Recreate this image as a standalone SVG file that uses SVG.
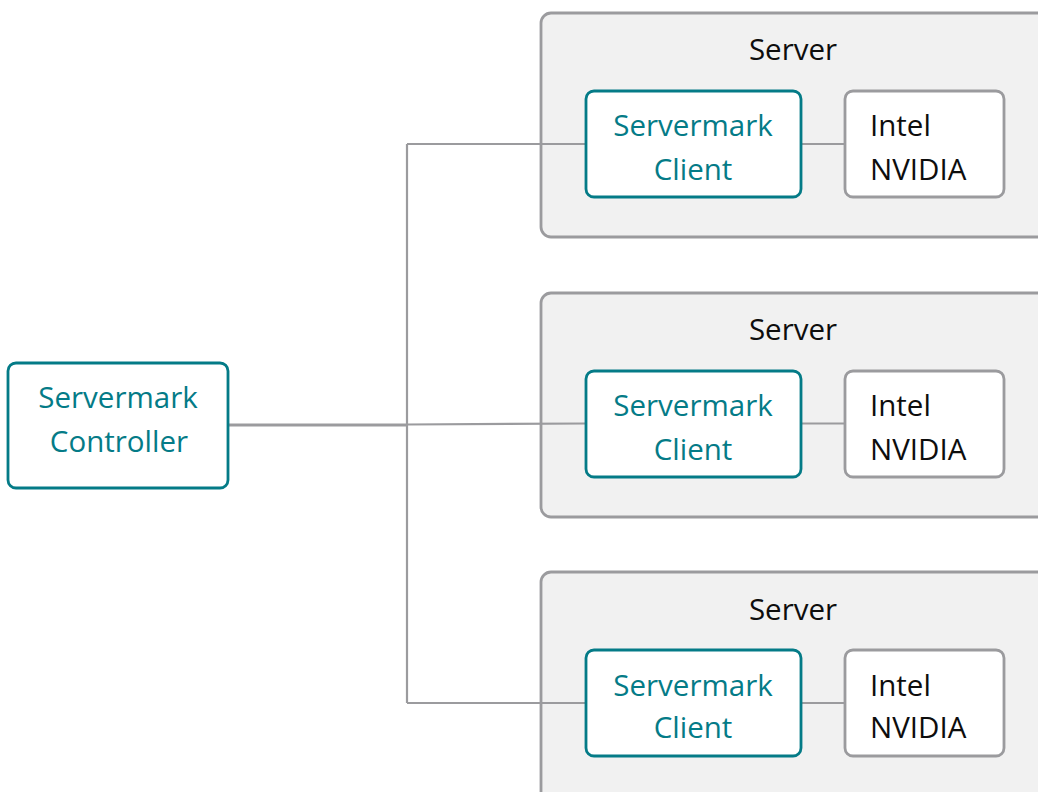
<svg xmlns="http://www.w3.org/2000/svg" width="1038" height="792" viewBox="0 0 1038 792">
<style>
text{font-family:"Open Sans","Noto Sans",sans-serif;font-size:29.500px}
.srv{fill:#f1f1f1;stroke:#9b9b9e;stroke-width:2.8}
.tl{fill:#fff;stroke:#047b87;stroke-width:2.8}
.gr{fill:#fff;stroke:#9b9b9e;stroke-width:2.8}
.t{fill:#047b87;text-anchor:middle}
.k{fill:#0d0d0d}
.m{text-anchor:middle}
.c{fill:none;stroke:#9b9b9e;stroke-width:2.2}
.c2{fill:none;stroke:#9b9b9e;stroke-width:2.8}
</style>
<g id="server1"><rect class="srv" x="541" y="13" width="540" height="224" rx="10"/><text class="k m" x="793" y="60">Server</text></g>
<g id="server2"><rect class="srv" x="541" y="293" width="540" height="224" rx="10"/><text class="k m" x="793" y="340">Server</text></g>
<g id="server3"><rect class="srv" x="541" y="572" width="540" height="264" rx="10"/><text class="k m" x="793" y="620">Server</text></g>
<g id="connectors">
<path class="c" d="M407 144V703M407 144H586M407 703H586M407 424.500L586 423.500M801 144H845M801 423.500H845M801 703H845"/>
<path class="c2" d="M229 425H407"/>
</g>
<g id="controller"><rect class="tl" x="8" y="363" width="220" height="125" rx="8"/><text class="t" x="118" y="408">Servermark</text><text class="t" x="119" y="452">Controller</text></g>
<g id="client1"><rect class="tl" x="586" y="91" width="215" height="106" rx="8"/><text class="t" x="693" y="136">Servermark</text><text class="t" x="693" y="180">Client</text></g>
<g id="gpu1"><rect class="gr" x="845" y="91" width="159" height="106" rx="8"/><text class="k" x="870" y="136">Intel</text><text class="k" x="870" y="180">NVIDIA</text></g>
<g id="client2"><rect class="tl" x="586" y="371" width="215" height="106" rx="8"/><text class="t" x="693" y="416">Servermark</text><text class="t" x="693" y="460">Client</text></g>
<g id="gpu2"><rect class="gr" x="845" y="371" width="159" height="106" rx="8"/><text class="k" x="870" y="416">Intel</text><text class="k" x="870" y="460">NVIDIA</text></g>
<g id="client3"><rect class="tl" x="586" y="650" width="215" height="106" rx="8"/><text class="t" x="693" y="696">Servermark</text><text class="t" x="693" y="738">Client</text></g>
<g id="gpu3"><rect class="gr" x="845" y="650" width="159" height="106" rx="8"/><text class="k" x="870" y="696">Intel</text><text class="k" x="870" y="738">NVIDIA</text></g>
</svg>
